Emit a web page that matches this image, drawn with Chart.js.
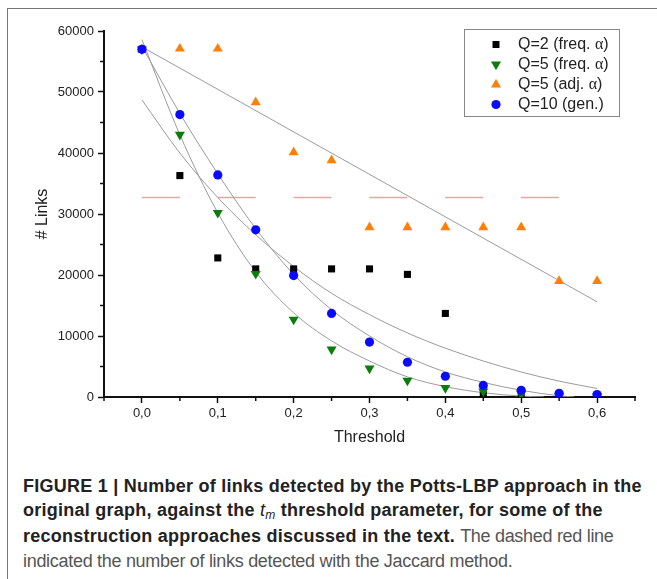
<!DOCTYPE html>
<html>
<head>
<meta charset="utf-8">
<script src="https://cdn.jsdelivr.net/npm/chart.js@4.4.1/dist/chart.umd.min.js"></script>
<style>
  body { margin: 0; background: #fff; width: 657px; height: 579px; overflow: hidden; position: relative; font-family: "Liberation Sans", Arial, sans-serif; }
  #frame { position: absolute; left: 7px; top: 8px; width: 700px; height: 620px; border-left: 1.5px solid #777; border-top: 1.5px solid #777; }
  #myChart { position: absolute; left: 0; top: 0; }
  .cap { position: absolute; left: 23px; width: 640px; font-size: 18px; line-height: 18px; white-space: nowrap; color: #222; }
  .b { font-weight: bold; letter-spacing: 0.25px; }
  .lt { color: #555; font-weight: normal; letter-spacing: -0.3px; }
  .cap i { font-weight: normal; }
  .cap sub { font-size: 12px; vertical-align: -3px; line-height: 0; }
</style>
</head>
<body>
<div id="frame"></div>
<canvas id="myChart" width="657" height="460"></canvas>
<div class="cap b" style="top:477px">FIGURE 1 | Number of links detected by the Potts-LBP approach in the</div>
<div class="cap b" style="top:501px">original graph, against the <i>t<sub>m</sub></i> threshold parameter, for some of the</div>
<div class="cap" style="top:527px"><b class="b">reconstruction approaches discussed in the text.</b> <span class="lt">The dashed red line</span></div>
<div class="cap lt" style="top:552px">indicated the number of links detected with the Jaccard method.</div>
<script>
const FONT = '"Liberation Sans", Arial, sans-serif';
const TEXT_COLOR = "#222";
const AXIS_COLOR = "#111";
const FIT_COLOR = "#9a9a9a";
const BLACK_COLOR = "#000000";
const GREEN_COLOR = "#0a7d0a";
const ORANGE_COLOR = "#ff7f0a";
const BLUE_COLOR = "#0a0aff";
const JACCARD_COLOR = "#f4a0a0";

// thresholds
const X_VALUES = [0, 0.05, 0.1, 0.15, 0.2, 0.25, 0.3, 0.35, 0.4, 0.45, 0.5, 0.55, 0.6];

// number of links per series
const Q2_FREQ = [57000, 36300, 22800, 21000, 21000, 21000, 21000, 20100, 13700, 500, 300];
const Q5_FREQ = [57000, 43000, 30200, 20200, 12700, 7800, 4700, 2700, 1500, 900, 500, 200, 150];
const Q5_ADJ = [57000, 57100, 57100, 48300, 40100, 38800, 27800, 27800, 27800, 27800, 27800, 19000, 19000];
const Q10_GEN = [57000, 46300, 36400, 27400, 19900, 13700, 9000, 5700, 3400, 1900, 1100, 600, 400];

// grey fit curves
const FIT_Q2_X = [0, 0.05, 0.1, 0.15, 0.2, 0.25, 0.3, 0.35, 0.4, 0.45, 0.5, 0.55, 0.6];
const FIT_Q2 = [48700, 40000, 32700, 26600, 21400, 17000, 13500, 10500, 8000, 5900, 4100, 2600, 1400];
const FIT_Q5_FREQ_X = [0, 0.05, 0.1, 0.15, 0.2, 0.25, 0.3, 0.35, 0.4, 0.45, 0.5, 0.53];
const FIT_Q5_FREQ = [58600, 43000, 30200, 20500, 13800, 9200, 5900, 3300, 1700, 700, 150, 0];
const FIT_Q10_X = [0, 0.05, 0.1, 0.15, 0.2, 0.25, 0.3, 0.35, 0.4, 0.45, 0.5, 0.55, 0.57];
const FIT_Q10 = [57500, 46500, 36600, 27600, 20100, 14300, 10000, 6600, 4100, 2400, 1100, 200, 0];
const FIT_Q5_ADJ_X = [0, 0.6];
const FIT_Q5_ADJ = [57400, 15600];

// dashed Jaccard reference line
const JACCARD_X = [0, 0.55];
const JACCARD = [32700, 32700];

// axis ticks (empty label = minor tick)
const X_TICKS = [-0.05, 0, 0.05, 0.1, 0.15, 0.2, 0.25, 0.3, 0.35, 0.4, 0.45, 0.5, 0.55, 0.6, 0.65];
const X_LABELS = ["", "0,0", "", "0,1", "", "0,2", "", "0,3", "", "0,4", "", "0,5", "", "0,6", ""];
const Y_TICKS = [0, 5000, 10000, 15000, 20000, 25000, 30000, 35000, 40000, 45000, 50000, 55000, 60000];
const Y_LABELS = ["0", "", "10000", "", "20000", "", "30000", "", "40000", "", "50000", "", "60000"];

const LEGEND_LABELS = ["Q=2 (freq. α)", "Q=5 (freq. α)", "Q=5 (adj. α)", "Q=10 (gen.)"];

//zip x and y arrays into chart points
function toPoints(xs, ys) {
    return ys.map((v, i) => ({ x: xs[i], y: v }));
}

//draws one marker shape by hand, used by the legend
function drawMarker(ctx, style, x, y, color) {
    ctx.fillStyle = color;
    ctx.beginPath();
    if (style == "rect") {
        ctx.rect(x - 3.5, y - 3.5, 7, 7);
    } else if (style == "circle") {
        ctx.arc(x, y, 4.6, 0, Math.PI * 2);
    } else {
        let r = 5.8;
        let dir = style == "down" ? -1 : 1;
        ctx.moveTo(x, y - dir * r);
        ctx.lineTo(x + r * 0.866, y + dir * r / 2);
        ctx.lineTo(x - r * 0.866, y + dir * r / 2);
        ctx.closePath();
    }
    ctx.fill();
}

//short minor ticks between the labelled ones
const minorTicks = {
    id: 'minorTicks',
    afterDraw(chart) {
        const { ctx, chartArea: { left, bottom }, scales: { x, y } } = chart;
        ctx.save();
        ctx.strokeStyle = AXIS_COLOR;
        ctx.lineWidth = 1.5;
        X_TICKS.forEach((v, i) => {
            if (X_LABELS[i]) return;
            let px = x.getPixelForValue(v);
            ctx.beginPath();
            ctx.moveTo(px, bottom);
            ctx.lineTo(px, bottom + 4);
            ctx.stroke();
        });
        Y_TICKS.forEach((v, i) => {
            if (Y_LABELS[i]) return;
            let py = y.getPixelForValue(v);
            ctx.beginPath();
            ctx.moveTo(left, py);
            ctx.lineTo(left - 4, py);
            ctx.stroke();
        });
        ctx.restore();
    }
};

//legend box in the upper right corner
const boxLegend = {
    id: 'boxLegend',
    afterDraw(chart) {
        const { ctx } = chart;
        const styles = ["rect", "down", "up", "circle"];
        const colors = [BLACK_COLOR, GREEN_COLOR, ORANGE_COLOR, BLUE_COLOR];
        ctx.save();
        ctx.fillStyle = "#fff";
        ctx.fillRect(464.5, 29.5, 155, 87);
        ctx.strokeStyle = "#888";
        ctx.lineWidth = 1;
        ctx.strokeRect(464.5, 29.5, 155, 87);
        ctx.textBaseline = "middle";
        LEGEND_LABELS.forEach((label, i) => {
            let rowY = 44.5 + i * 20;
            drawMarker(ctx, styles[i], 496, rowY, colors[i]);
            ctx.fillStyle = TEXT_COLOR;
            let tx = 518;
            label.split(/(α)/).forEach(part => {
                ctx.font = part == "α" ? `16px "Liberation Serif", serif` : `16px ${FONT}`;
                ctx.fillText(part, tx, rowY);
                tx += ctx.measureText(part).width;
            });
        });
        ctx.restore();
    }
};

function scatterSet(data, style, radius, color, rotation) {
    return {
        data: data,
        pointStyle: style,
        pointRadius: radius,
        pointRotation: rotation || 0,
        pointBackgroundColor: color,
        pointBorderColor: color,
        pointBorderWidth: 0,
        showLine: false
    };
}

function lineSet(data, color, width, dash) {
    return {
        data: data,
        showLine: true,
        pointRadius: 0,
        borderColor: color,
        borderWidth: width,
        borderDash: dash || [],
        cubicInterpolationMode: 'monotone',
        fill: false
    };
}

const axisFont = { family: FONT, size: 13 };
const titleFont = { family: FONT, size: 16 };

new Chart("myChart", {
    type: 'scatter',
    data: {
        datasets: [
            // first dataset is drawn on top
            scatterSet(toPoints(X_VALUES, Q10_GEN), 'circle', 4.6, BLUE_COLOR),
            scatterSet(toPoints(X_VALUES, Q5_ADJ), 'triangle', 5.8, ORANGE_COLOR),
            scatterSet(toPoints(X_VALUES, Q5_FREQ), 'triangle', 5.8, GREEN_COLOR, 180),
            scatterSet(toPoints(X_VALUES, Q2_FREQ), 'rect', 5, BLACK_COLOR),
            lineSet(toPoints(FIT_Q2_X, FIT_Q2), FIT_COLOR, 1),
            lineSet(toPoints(FIT_Q5_FREQ_X, FIT_Q5_FREQ), FIT_COLOR, 1),
            lineSet(toPoints(FIT_Q10_X, FIT_Q10), FIT_COLOR, 1),
            lineSet(toPoints(FIT_Q5_ADJ_X, FIT_Q5_ADJ), FIT_COLOR, 1),
            lineSet(toPoints(JACCARD_X, JACCARD), JACCARD_COLOR, 1.5, [37.9, 37.9])
        ]
    },
    options: {
        responsive: false,
        animation: false,
        devicePixelRatio: 1,
        layout: { padding: { top: 31, right: 22, left: 0, bottom: 0 } },
        plugins: {
            legend: { display: false },
            tooltip: { enabled: false }
        },
        scales: {
            x: {
                type: 'linear',
                min: -0.05,
                max: 0.65,
                afterBuildTicks: scale => { scale.ticks = X_TICKS.map(v => ({ value: v })); },
                afterFit: scale => { scale.height = 63; },
                ticks: {
                    autoSkip: false,
                    maxRotation: 0,
                    padding: 3,
                    color: TEXT_COLOR,
                    font: axisFont,
                    callback: (value, index) => X_LABELS[index]
                },
                grid: {
                    drawOnChartArea: false,
                    tickLength: 6,
                    tickWidth: 1.5,
                    tickColor: c => X_LABELS[c.index] ? AXIS_COLOR : 'rgba(0,0,0,0)'
                },
                border: { color: AXIS_COLOR, width: 2 },
                title: { display: true, text: 'Threshold', color: TEXT_COLOR, font: titleFont, padding: { top: 0, bottom: 12.6 } }
            },
            y: {
                min: 0,
                max: 60000,
                afterBuildTicks: scale => { scale.ticks = Y_TICKS.map(v => ({ value: v })); },
                afterFit: scale => { scale.width = 104; },
                ticks: {
                    autoSkip: false,
                    padding: 4,
                    color: TEXT_COLOR,
                    font: axisFont,
                    callback: (value, index) => Y_LABELS[index]
                },
                grid: {
                    drawOnChartArea: false,
                    tickLength: 6,
                    tickWidth: 1.5,
                    tickColor: c => Y_LABELS[c.index] ? AXIS_COLOR : 'rgba(0,0,0,0)'
                },
                border: { color: AXIS_COLOR, width: 2 },
                title: { display: true, text: '# Links', color: TEXT_COLOR, font: titleFont, padding: { top: 32.6, bottom: 0 } }
            }
        }
    },
    plugins: [minorTicks, boxLegend]
});
</script>
</body>
</html>
